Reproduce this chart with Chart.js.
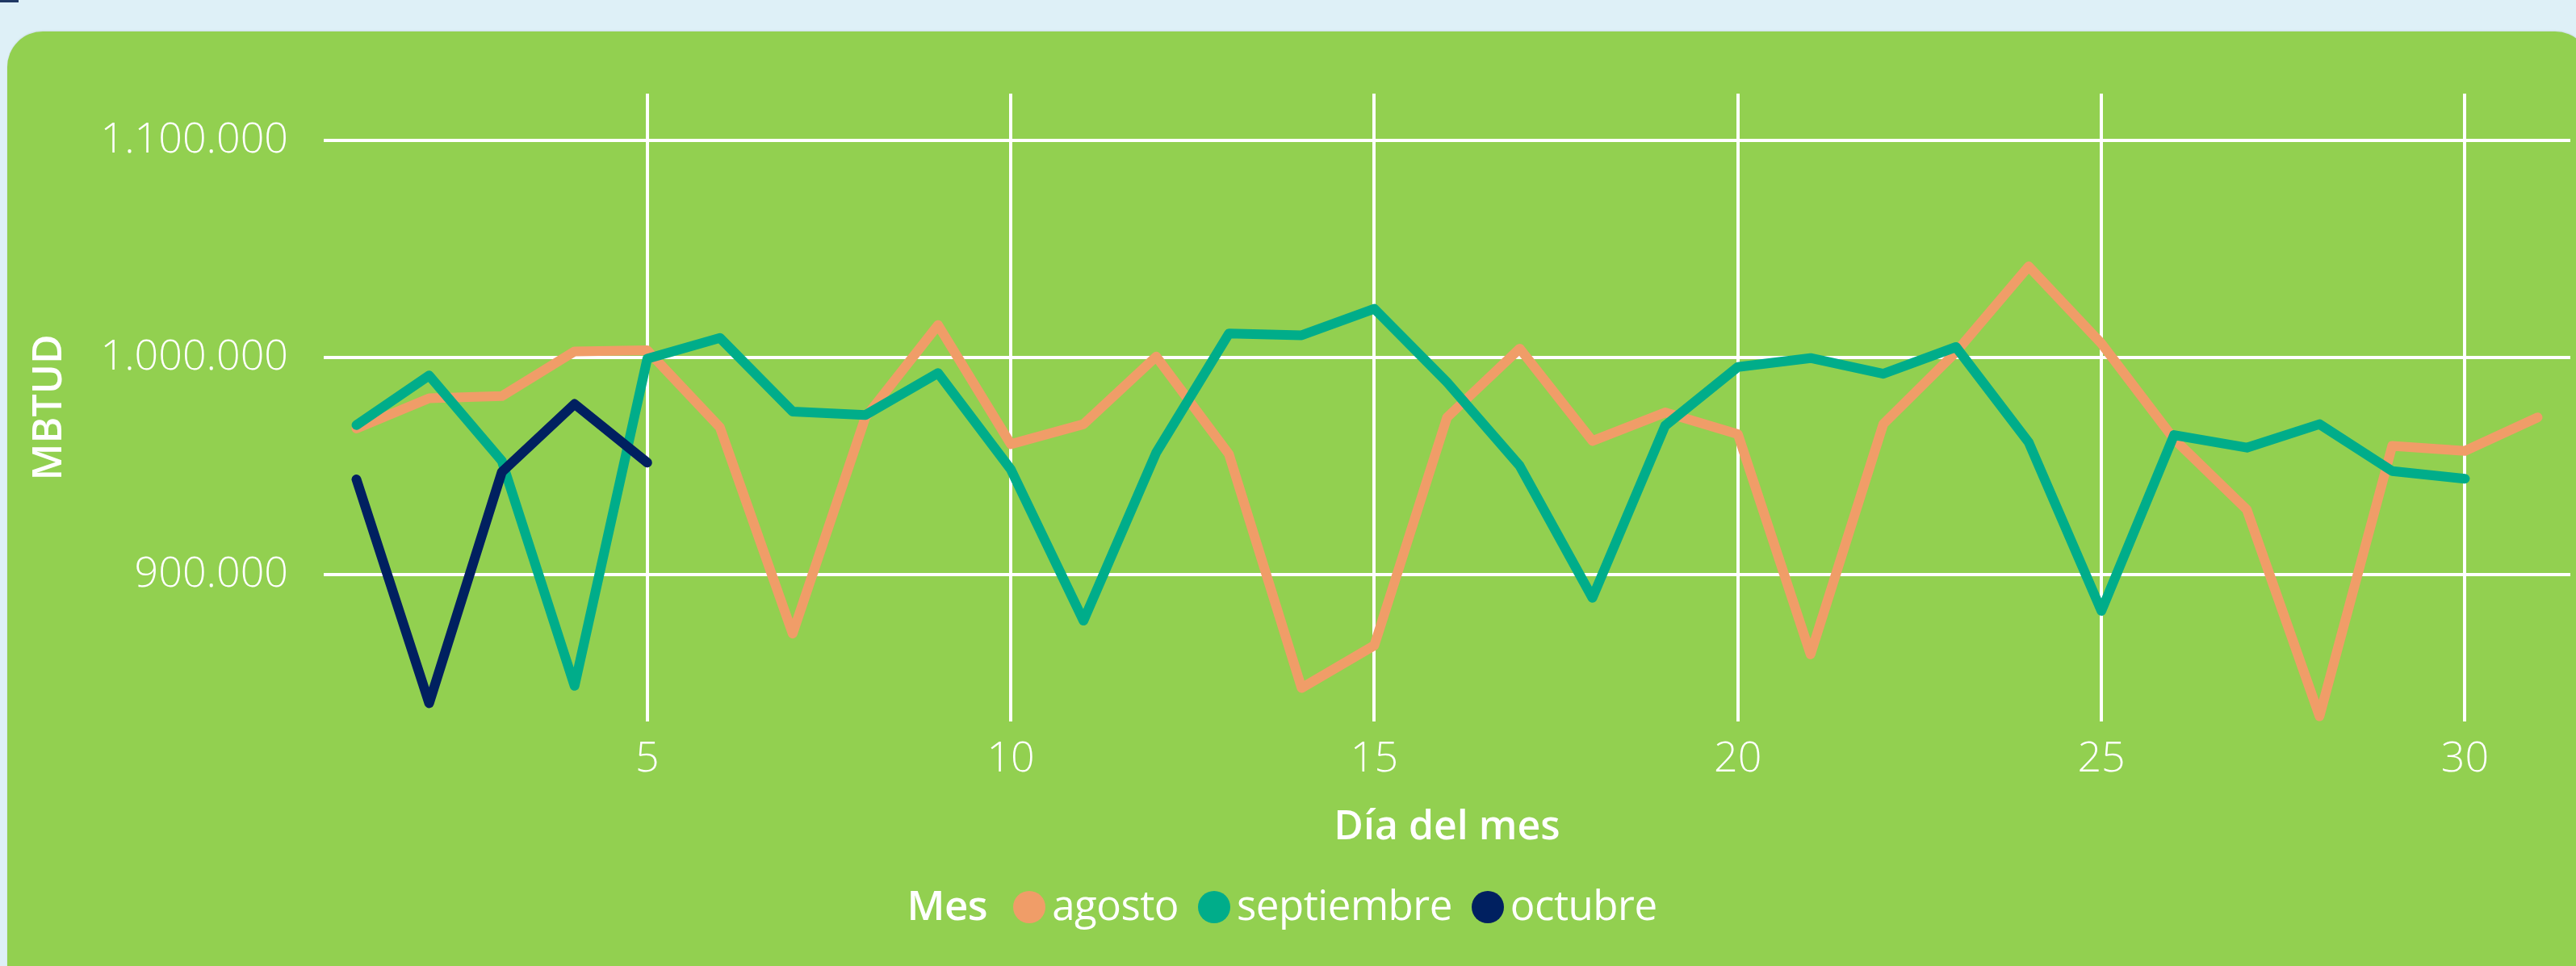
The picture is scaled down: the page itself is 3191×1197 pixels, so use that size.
<!DOCTYPE html>
<html>
<head>
<meta charset="utf-8">
<script src="https://cdn.jsdelivr.net/npm/chart.js@4.4.1/dist/chart.umd.min.js"></script>
<style>
  html, body { margin: 0; padding: 0; }
  body { width: 3191px; height: 1197px; overflow: hidden; background: #DEF0F7; position: relative; font-family: "Open Sans", sans-serif; }
  #mark { position: absolute; left: 0; top: 0; width: 23px; height: 3px; background: #1F3864; }
  #card { position: absolute; left: 9px; top: 39px; width: 3200px; height: 1250px; background: #92D050; border-radius: 44px; box-shadow: 0 -1px 2px rgba(0,0,0,0.08); }
  #chart { position: absolute; left: 0; top: 0; }
  #legend { position: absolute; left: 0; top: 1090px; width: 3200px; text-align: center; color: #fff; font-size: 51px; line-height: 60px; white-space: nowrap; letter-spacing: -0.5px; }
  #legend .ttl { font-weight: 600; margin-right: 32px; }
  #legend .item { display: inline-block; margin-right: 24px; }
  #legend .dot { display: inline-block; width: 40px; height: 40px; border-radius: 50%; vertical-align: -4px; margin-right: 8px; }
</style>
</head>
<body>
<div id="mark"></div>
<div id="card"></div>
<canvas id="chart" width="3191" height="1197"></canvas>
<div id="legend"></div>
<script>
const dias = [1, 2, 3, 4, 5, 6, 7, 8, 9, 10, 11, 12, 13, 14, 15, 16, 17, 18, 19, 20, 21, 22, 23, 24, 25, 26, 27, 28, 29, 30, 31];
const agosto = [967400, 981300, 982300, 1002900, 1003400, 967900, 873000, 972500, 1015000, 960200,
  969400, 1000500, 955600, 848000, 867600, 972500, 1004200, 961700, 974800, 964800,
  863500, 969400, 1002600, 1042000, 1006500, 962500, 930100, 835000, 959400, 957100, 972500];
const septiembre = [969000, 991800, 952500, 849000, 999500, 1009100, 975200, 973600, 992900, 948600,
  879000, 956300, 1011100, 1010300, 1022500, 988700, 950200, 889500, 968700, 995700,
  999800, 992600, 1004900, 961000, 883500, 964400, 958600, 969400, 947800, 944300];
const octubre = [944000, 841000, 947400, 978700, 951700];
const ticksX = [5, 10, 15, 20, 25, 30];
const ticksY = [900000, 1000000, 1100000];

const series = [
  { label: "agosto", values: agosto, color: "#F09D68", order: 3 },
  { label: "septiembre", values: septiembre, color: "#00AD8A", order: 2 },
  { label: "octubre", values: octubre, color: "#002060", order: 1 },
];

function fmt(v) {
  return String(v).replace(/\B(?=(\d{3})+(?!\d))/g, ".");
}

const ctx = document.getElementById("chart").getContext("2d");
const tickFont = { family: "'Open Sans', sans-serif", size: 52, weight: 300 };
const titleFont = { family: "'Open Sans', sans-serif", size: 50, weight: 600 };

const myChart = new Chart(ctx, {
  type: "line",
  data: {
    datasets: series.map((s) => ({
      label: s.label,
      data: s.values.map((v, i) => ({ x: dias[i], y: v })),
      borderColor: s.color,
      backgroundColor: s.color,
      borderWidth: 12,
      borderCapStyle: "round",
      borderJoinStyle: "round",
      pointRadius: 0,
      tension: 0,
      order: s.order,
    })),
  },
  options: {
    responsive: false,
    animation: false,
    devicePixelRatio: 1,
    layout: { padding: { left: 0, top: 116, right: 7, bottom: 123 } },
    plugins: { legend: { display: false }, tooltip: { enabled: false } },
    scales: {
      x: {
        type: "linear",
        min: 0.55,
        max: 31.45,
        afterFit: (scale) => { scale.height = 180; },
        afterBuildTicks: (scale) => { scale.ticks = ticksX.map((v) => ({ value: v })); },
        grid: { color: "#ffffff", lineWidth: 4, drawTicks: false },
        border: { display: false },
        ticks: { color: "#ffffff", font: tickFont, padding: 16, maxRotation: 0 },
        title: { display: true, text: "Día del mes", color: "#ffffff", font: titleFont, padding: { top: 0, bottom: 18 } },
      },
      y: {
        min: 832600,
        max: 1121500,
        afterFit: (scale) => { scale.width = 401; },
        afterBuildTicks: (scale) => { scale.ticks = ticksY.map((v) => ({ value: v })); },
        grid: { color: "#ffffff", lineWidth: 4, drawTicks: false },
        border: { display: false },
        ticks: { color: "#ffffff", font: tickFont, padding: 44, callback: (v) => fmt(v) },
        title: { display: true, text: "MBTUD", color: "#ffffff", font: titleFont, padding: { top: 32, bottom: 0 } },
      },
    },
  },
});

// legend built from the chart's own datasets
const legend = document.getElementById("legend");
let html = '<span class="ttl">Mes</span>';
myChart.data.datasets.forEach((ds) => {
  html += '<span class="item"><span class="dot" style="background:' + ds.borderColor + '"></span>' + ds.label + '</span>';
});
legend.innerHTML = html;
</script>
</body>
</html>
